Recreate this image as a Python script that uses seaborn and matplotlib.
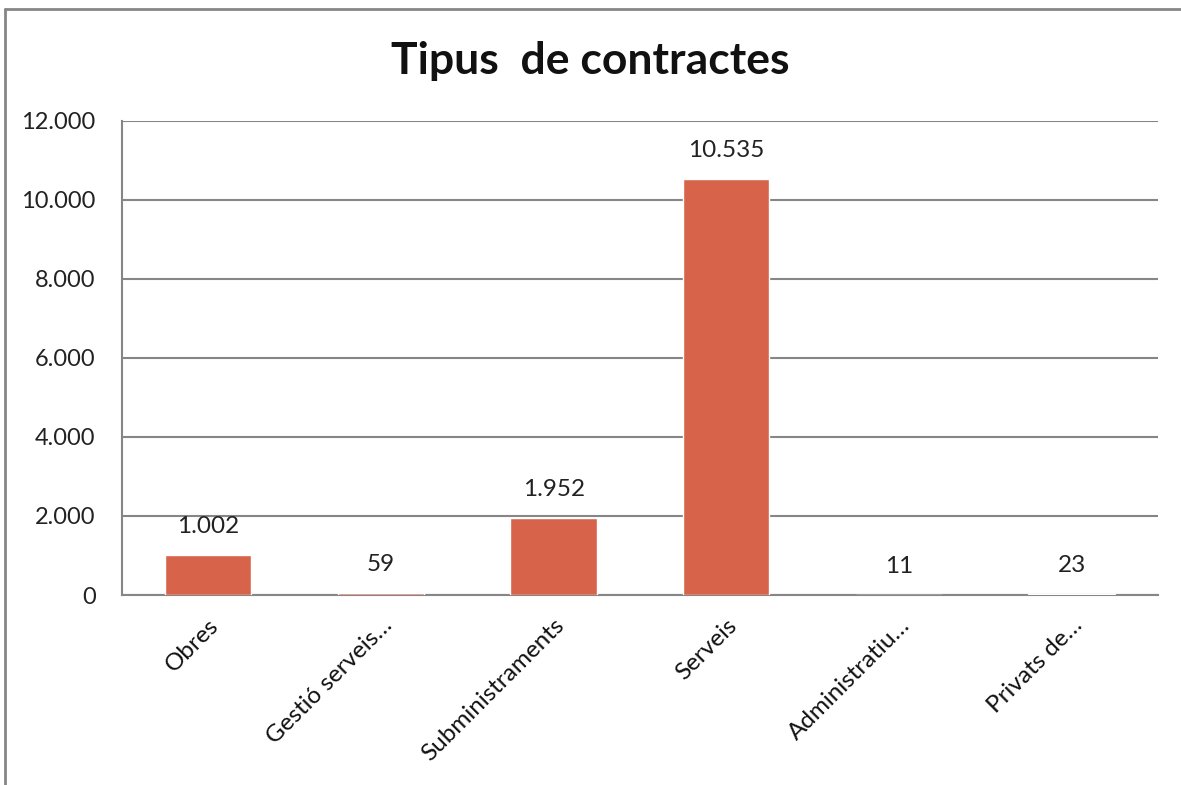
import matplotlib
matplotlib.use("Agg")
import matplotlib.pyplot as plt
import matplotlib.ticker as mticker
from matplotlib.lines import Line2D
import seaborn as sns
import pandas as pd

# ----------------------------------------------------------------------
# Data
# ----------------------------------------------------------------------
categories = ["Obres", "Gestió serveis…", "Subministraments", "Serveis",
              "Administratiu…", "Privats de…"]
counts = [1002, 59, 1952, 10535, 11, 23]
y_ticks = [0, 2000, 4000, 6000, 8000, 10000, 12000]

df = pd.DataFrame({"tipus": categories, "contractes": counts})

def fmt_ca(v, pos=None):
    # thousands separator with a dot, as in the original
    return f"{int(v):,}".replace(",", ".")

# ----------------------------------------------------------------------
# Plot
# ----------------------------------------------------------------------
sns.set_style("white")
plt.rcParams["font.family"] = ["Lato", "DejaVu Sans"]

grey = "#868686"
bar_col = "#D6634A"

fig = plt.figure(figsize=(11.81, 7.85), dpi=100)
ax = fig.add_axes([0.1033, 0.242, 0.8772, 0.6041])

sns.barplot(data=df, x="tipus", y="contractes", color=bar_col,
            width=0.5, saturation=1, ax=ax, zorder=3)

ax.set_ylim(0, 12000)
ax.set_xlim(-0.5, len(categories) - 0.5)
ax.set_yticks(y_ticks)
ax.yaxis.set_major_formatter(mticker.FuncFormatter(fmt_ca))
ax.set_xlabel("")
ax.set_ylabel("")

# horizontal gridlines
ax.yaxis.grid(True, color=grey, linewidth=1.5, zorder=0)
ax.set_axisbelow(True)

for s in ["top", "right"]:
    ax.spines[s].set_visible(False)
for s in ["left", "bottom"]:
    ax.spines[s].set_color(grey)
    ax.spines[s].set_linewidth(1.5)

ax.tick_params(axis="y", length=8, width=1.5, color=grey, labelsize=17,
               labelcolor="#222222", pad=11)
# x ticks sit on category boundaries
ax.set_xticks(range(len(categories)))
ax.set_xticklabels(categories, rotation=45, ha="right",
                   rotation_mode="anchor", fontsize=17.5, color="#111111")
ax.tick_params(axis="x", length=0, pad=14)
ax.set_xticks([i - 0.5 for i in range(len(categories) + 1)], minor=True)
ax.tick_params(axis="x", which="minor", length=8, width=1.5, color=grey)

# value labels
for i, v in enumerate(counts):
    ax.annotate(fmt_ca(v), (i, v), xytext=(0, 13), textcoords="offset points",
                ha="center", va="bottom", fontsize=17.5, color="#222222")

fig.suptitle("Tipus  de contractes", x=0.5, y=0.948, fontsize=32,
             fontweight="bold", color="#111111")

# chart frame (left and top edges visible in the original)
fig.add_artist(Line2D([5 / 1181, 5 / 1181], [0, 1 - 9 / 785],
                      transform=fig.transFigure, color=grey, linewidth=2))
fig.add_artist(Line2D([5 / 1181, 1], [1 - 9 / 785, 1 - 9 / 785],
                      transform=fig.transFigure, color=grey, linewidth=2))

fig.savefig("out.png", dpi=100)
